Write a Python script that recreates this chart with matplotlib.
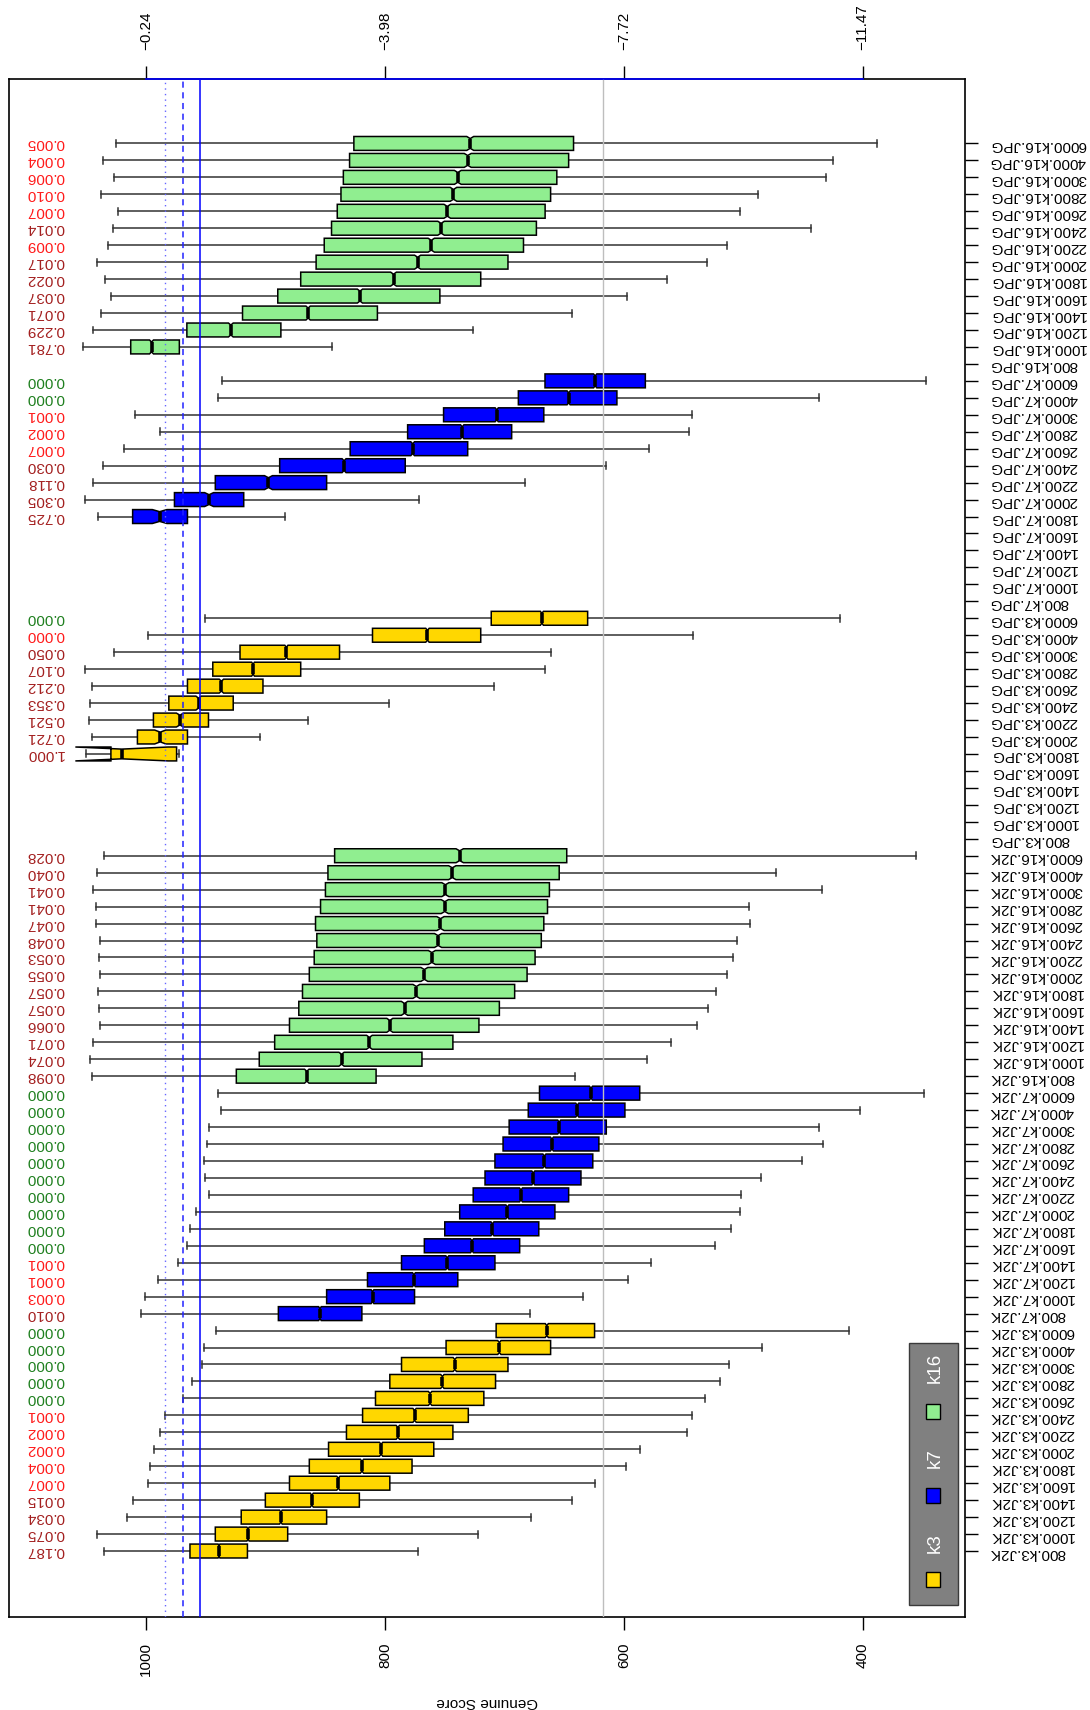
import numpy as np
import matplotlib
matplotlib.use("Agg")
import matplotlib.pyplot as plt
from matplotlib.patches import Polygon, Rectangle
import matplotlib.transforms as mtransforms

plt.rcParams['font.family'] = ['Liberation Sans', 'DejaVu Sans']

# ---------------- data ----------------
sizes = ['800', '1000', '1200', '1400', '1600', '1800', '2000', '2200',
         '2400', '2600', '2800', '3000', '4000', '6000']
formats = ['J2K', 'JPG']
kernels = ['k3', 'k7', 'k16']
kernel_colors = ['#FFD700', '#0000FF', '#90EE90']

# (whisker low, Q1, median, Q3, whisker high) per size; None = no data
j2k_k3 = [
    (772.1, 915.1, 938.9, 963.2, 1035.2),
    (722.4, 881.4, 914.6, 942.0, 1041.4),
    (677.9, 848.8, 887.1, 920.3, 1016.1),
    (643.1, 821.4, 861.2, 900.1, 1010.9),
    (624.5, 795.9, 839.0, 879.9, 998.0),
    (598.1, 777.3, 819.2, 863.3, 996.9),
    (586.2, 759.1, 803.2, 847.2, 993.3),
    (547.3, 743.1, 789.2, 832.2, 988.1),
    (543.2, 730.2, 775.2, 818.7, 984.5),
    (532.3, 717.2, 762.2, 807.9, 969.4),
    (519.9, 707.4, 751.9, 795.9, 961.2),
    (511.6, 697.0, 741.5, 786.1, 953.4),
    (484.2, 661.3, 704.2, 748.8, 951.3),
    (411.6, 624.5, 664.5, 706.9, 941.5),
]
j2k_k7 = [
    (678.4, 819.3, 854.4, 889.2, 1004.1),
    (634.4, 775.2, 810.4, 848.8, 1000.5),
    (596.1, 739.0, 775.7, 814.6, 989.6),
    (577.4, 707.9, 747.8, 786.1, 973.1),
    (524.0, 687.2, 727.1, 767.0, 965.3),
    (510.6, 671.2, 710.0, 749.9, 963.2),
    (502.7, 657.7, 697.5, 737.4, 958.1),
    (502.3, 646.2, 686.1, 726.1, 947.2),
    (485.2, 635.9, 675.8, 716.2, 950.3),
    (451.0, 626.0, 666.5, 707.9, 951.3),
    (432.9, 620.9, 660.2, 701.1, 949.2),
    (437.0, 614.7, 654.1, 696.0, 947.2),
    (401.9, 599.1, 639.0, 680.0, 936.9),
    (349.0, 586.7, 627.5, 670.6, 939.4),
]
j2k_k16 = [
    (640.6, 807.4, 865.4, 924.4, 1045.6),
    (581.0, 769.0, 836.3, 905.2, 1046.6),
    (560.8, 743.1, 813.0, 892.3, 1044.0),
    (539.1, 721.3, 795.9, 879.9, 1038.3),
    (529.2, 704.2, 783.6, 872.1, 1039.4),
    (523.0, 691.4, 773.7, 869.0, 1040.4),
    (513.6, 681.0, 767.0, 863.3, 1038.3),
    (509.0, 674.3, 760.7, 859.2, 1039.4),
    (504.9, 669.1, 755.5, 857.0, 1038.3),
    (494.0, 667.0, 753.5, 858.1, 1041.9),
    (495.5, 663.9, 749.9, 853.9, 1041.9),
    (433.9, 662.3, 749.4, 849.8, 1044.0),
    (472.7, 654.1, 743.6, 847.7, 1040.9),
    (355.7, 647.8, 737.4, 842.1, 1035.2),
]
jpg_k3 = [
    None, None, None, None, None,
    (972.3, 974.4, 1020.3, 1029.4, 1050.3),
    (904.2, 965.3, 988.1, 1007.2, 1045.6),
    (864.8, 947.7, 971.6, 993.8, 1048.1),
    (797.0, 927.0, 956.0, 980.9, 1046.6),
    (709.0, 902.1, 936.9, 965.3, 1045.6),
    (665.9, 870.5, 910.4, 944.1, 1050.8),
    (661.3, 838.0, 882.5, 921.3, 1027.0),
    (541.7, 719.8, 764.4, 810.4, 998.0),
    (419.4, 630.3, 668.6, 711.0, 950.3),
]
jpg_k7 = [
    None, None, None, None, None,
    (884.0, 965.3, 988.6, 1011.2, 1040.4),
    (771.1, 918.2, 947.2, 976.2, 1051.3),
    (683.0, 848.8, 897.5, 942.0, 1044.5),
    (615.2, 783.0, 834.2, 888.1, 1035.8),
    (579.0, 730.7, 776.8, 829.1, 1018.1),
    (545.3, 693.9, 735.3, 781.0, 988.3),
    (543.2, 667.0, 706.4, 750.9, 1009.4),
    (437.0, 605.8, 646.2, 688.3, 939.9),
    (346.9, 582.0, 624.0, 666.0, 936.3),
]
jpg_k16 = [
    None,
    (844.7, 972.1, 995.4, 1012.8, 1052.9),
    (726.1, 887.1, 929.0, 965.8, 1044.0),
    (643.1, 806.3, 864.3, 919.2, 1037.3),
    (597.6, 754.0, 820.9, 889.7, 1029.1),
    (563.9, 719.8, 792.8, 870.5, 1034.2),
    (530.2, 697.0, 772.6, 857.6, 1040.9),
    (513.6, 684.0, 761.2, 850.8, 1031.6),
    (443.3, 673.2, 753.0, 844.7, 1028.0),
    (502.7, 665.9, 747.8, 839.9, 1023.8),
    (487.8, 661.3, 742.6, 836.8, 1037.3),
    (430.8, 656.1, 739.0, 834.8, 1027.0),
    (424.6, 646.2, 730.7, 829.6, 1036.3),
    (387.9, 642.1, 728.6, 826.0, 1024.9),
]

# sample sizes (used for notches)
j2k_k3_n = [10000] * 14
j2k_k7_n = [10000] * 14
j2k_k16_n = [10000] * 14
jpg_k3_n = [0, 0, 0, 0, 0, 5, 200, 600, 1500, 3000, 10000, 10000, 10000, 10000]
jpg_k7_n = [0, 0, 0, 0, 0, 140, 600, 2000, 10000, 10000, 10000, 10000, 10000, 10000]
jpg_k16_n = [0, 1500, 4000, 10000, 10000, 10000, 10000, 10000, 10000, 10000, 10000, 10000, 10000, 10000]

# p-values and significance class (g: highly sig., r: sig., d: not sig.)
j2k_k3_p = ['0.187', '0.075', '0.034', '0.015', '0.007', '0.004', '0.002',
            '0.002', '0.001', '0.000', '0.000', '0.000', '0.000', '0.000']
j2k_k3_s = ['d', 'd', 'd', 'd', 'r', 'r', 'r', 'r', 'r', 'g', 'g', 'g', 'g', 'g']
j2k_k7_p = ['0.010', '0.003', '0.001', '0.001', '0.000', '0.000', '0.000',
            '0.000', '0.000', '0.000', '0.000', '0.000', '0.000', '0.000']
j2k_k7_s = ['d', 'r', 'r', 'r', 'g', 'g', 'g', 'g', 'g', 'g', 'g', 'g', 'g', 'g']
j2k_k16_p = ['0.098', '0.074', '0.071', '0.066', '0.057', '0.057', '0.055',
             '0.053', '0.048', '0.047', '0.041', '0.041', '0.040', '0.028']
j2k_k16_s = ['d'] * 14
jpg_k3_p = [None, None, None, None, None, '1.000', '0.721', '0.521', '0.353',
            '0.212', '0.107', '0.050', '0.000', '0.000']
jpg_k3_s = [None, None, None, None, None, 'd', 'd', 'd', 'd', 'd', 'd', 'd', 'r', 'g']
jpg_k7_p = [None, None, None, None, None, '0.725', '0.305', '0.118', '0.030',
            '0.007', '0.002', '0.001', '0.000', '0.000']
jpg_k7_s = [None, None, None, None, None, 'd', 'd', 'd', 'd', 'r', 'r', 'r', 'g', 'g']
jpg_k16_p = [None, '0.781', '0.229', '0.071', '0.037', '0.022', '0.017', '0.009',
             '0.014', '0.007', '0.010', '0.006', '0.004', '0.005']
jpg_k16_s = [None, 'd', 'd', 'd', 'd', 'd', 'd', 'r', 'd', 'r', 'r', 'r', 'r', 'r']

# reference lines (score values)
ref_solid = 955.0
ref_dashed = 969.4
ref_dotted = 984.4
ref_gray = 617.3

score_ticks = [1000, 800, 600, 400]
top_tick_labels = ['\u22120.24', '\u22123.98', '\u22127.72', '\u221211.47']

# ---------------- assemble ----------------
groups = [
    (j2k_k3, j2k_k3_n, j2k_k3_p, j2k_k3_s, 0),
    (j2k_k7, j2k_k7_n, j2k_k7_p, j2k_k7_s, 1),
    (j2k_k16, j2k_k16_n, j2k_k16_p, j2k_k16_s, 2),
    (jpg_k3, jpg_k3_n, jpg_k3_p, jpg_k3_s, 0),
    (jpg_k7, jpg_k7_n, jpg_k7_p, jpg_k7_s, 1),
    (jpg_k16, jpg_k16_n, jpg_k16_p, jpg_k16_s, 2),
]
labels = [f'{s}.{k}.{f}' for f in formats for k in kernels for s in sizes]

sig_colors = {'g': '#1E7F1E', 'r': '#FF1A1A', 'd': '#A31F1F'}

W, H = 1090, 1710
fig = plt.figure(figsize=(W / 100, H / 100), dpi=100)
ax_l, ax_r, ax_t, ax_b = 9, 965, 79, 1617
ax = fig.add_axes([ax_l / W, (H - ax_b) / H, (ax_r - ax_l) / W, (ax_b - ax_t) / H])

BOX_W = 0.82
NOTCH_FRAC = 0.7
STAPLE = 0.5
whisk_col = '#333333'

pos = 0
for stats_list, n_list, p_list, s_list, kidx in groups:
    for stats, n, p, s in zip(stats_list, n_list, p_list, s_list):
        pos += 1
        if stats is None:
            continue
        lo, q1, med, q3, hi = stats
        w = BOX_W / 2
        d = 1.58 * (q3 - q1) / np.sqrt(n)
        clo, chi = med - d, med + d
        # whiskers
        ax.plot([q3, hi], [pos, pos], color=whisk_col, lw=1.1, zorder=2)
        ax.plot([lo, q1], [pos, pos], color=whisk_col, lw=1.1, zorder=2)
        ax.plot([hi, hi], [pos - w * STAPLE, pos + w * STAPLE], color=whisk_col, lw=1.1, zorder=2)
        ax.plot([lo, lo], [pos - w * STAPLE, pos + w * STAPLE], color=whisk_col, lw=1.1, zorder=2)
        # notched box (R bxp style)
        xs = [q1, q1, clo, med, chi, q3, q3, chi, med, clo]
        ys = [pos - w, pos + w, pos + w, pos + NOTCH_FRAC * w, pos + w,
              pos + w, pos - w, pos - w, pos - NOTCH_FRAC * w, pos - w]
        ax.add_patch(Polygon(np.column_stack([xs, ys]), closed=True,
                             facecolor=kernel_colors[kidx], edgecolor='black',
                             lw=1.1, zorder=3))
        ax.plot([med, med], [pos - NOTCH_FRAC * w, pos + NOTCH_FRAC * w],
                color='black', lw=2.6, solid_capstyle='butt', zorder=4)
        if p is not None:
            ax.text(1068.6, pos, p, rotation=180, ha='right', va='center',
                    fontsize=11, color=sig_colors[s], zorder=5)

n_cat = len(labels)
ax.set_ylim(-2.89, 87.8)
ax.set_xlim(1114.7, 314.4)

# reference lines
ax.axvline(ref_solid, color='#0000FF', lw=1.1, zorder=6)
ax.axvline(ref_dashed, color='#2222FF', lw=1.1, ls=(0, (4, 3)), zorder=6)
ax.axvline(ref_dotted, color='#6666FF', lw=1.0, ls=(0, (1, 3)), zorder=6)
ax.axvline(ref_gray, color='#BEBEBE', lw=1.0, zorder=6)

# category axis on the right
ax.yaxis.tick_right()
ax.set_yticks(np.arange(1, n_cat + 1))
ax.set_yticklabels(labels, rotation=180, fontsize=11)
ax.tick_params(axis='y', length=9.1, width=1.0, pad=8.6, direction='out')

# score axis at bottom
ax.set_xticks(score_ticks)
ax.set_xticklabels([str(t) for t in score_ticks], rotation=90, fontsize=11)
ax.tick_params(axis='x', length=9.4, width=1.0, pad=8.6, direction='out')

for sp in ax.spines.values():
    sp.set_linewidth(1.2)
    sp.set_color('black')

# top axis (transformed score)
sec = ax.secondary_xaxis('top')
sec.set_xticks(score_ticks)
sec.set_xticklabels(top_tick_labels, rotation=90, fontsize=11)
sec.tick_params(axis='x', colors='black', length=9.4, width=1.0, pad=11.5)
for t in sec.xaxis.get_ticklines():
    t.set_color('#0000FF')
sec.spines['top'].set_visible(False)
trans = mtransforms.blended_transform_factory(ax.transData, ax.transAxes)
ax.plot([score_ticks[0], score_ticks[-1]], [1, 1], color='#0000FF', lw=1.2,
        transform=trans, clip_on=False, zorder=10)

# axis title
fig.text(487 / W, 1 - 1702 / H, 'Genuine Score', rotation=180, ha='center',
         va='center', fontsize=11)

# legend (vertical box, bottom-right)
def axfx(px):
    return (px - ax_l) / (ax_r - ax_l)

def axfy(py):
    return (ax_b - py) / (ax_b - ax_t)

ax.add_patch(Rectangle((axfx(909), axfy(1605)), axfx(958) - axfx(909),
                       axfy(1343) - axfy(1605), transform=ax.transAxes,
                       facecolor='#808080', edgecolor='#3A3A3A', lw=1.0,
                       zorder=7, clip_on=False))
leg_sq_y = [1579, 1495, 1411]
leg_tx_y = [1543, 1458, 1368]
for kidx, kname in enumerate(kernels):
    cy = leg_sq_y[kidx]
    ax.add_patch(Rectangle((axfx(926), axfy(cy + 7.5)), axfx(940) - axfx(926),
                           axfy(cy - 7.5) - axfy(cy + 7.5), transform=ax.transAxes,
                           facecolor=kernel_colors[kidx], edgecolor='black',
                           lw=1.0, zorder=8))
    ax.text(axfx(935), axfy(leg_tx_y[kidx]), kname, transform=ax.transAxes,
            rotation=90, ha='center', va='center', color='white',
            fontsize=13.5, zorder=9)

fig.savefig('out.png', dpi=100)
